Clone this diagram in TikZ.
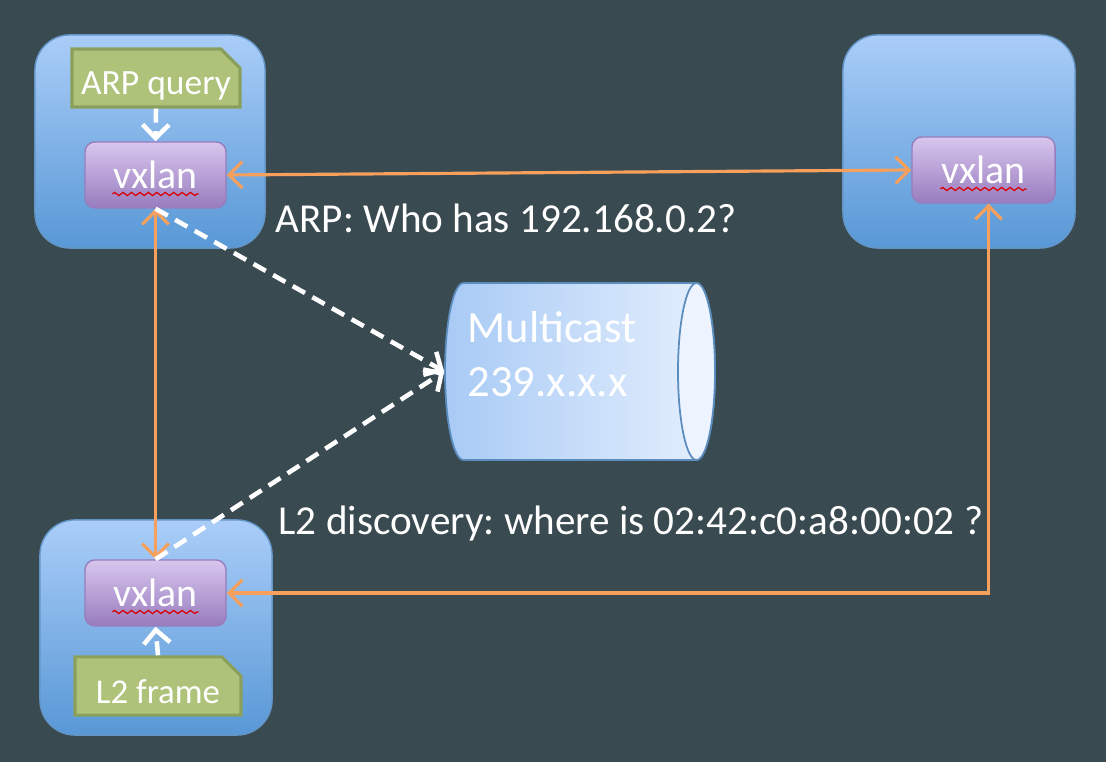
\documentclass[tikz,border=0pt]{standalone}
\usepackage{fontspec}
\setmainfont{Carlito}
\usetikzlibrary{shapes.misc,arrows.meta,decorations.pathmorphing}

\definecolor{slate}{RGB}{58,74,81}
\definecolor{hosttop}{RGB}{170,205,248}
\definecolor{hostbot}{RGB}{88,152,214}
\definecolor{hostedge}{RGB}{100,150,200}
\definecolor{vxtop}{RGB}{216,198,238}
\definecolor{vxbot}{RGB}{152,124,190}
\definecolor{vxedge}{RGB}{150,125,190}
\definecolor{pktfill}{RGB}{174,194,122}
\definecolor{pktedge}{RGB}{138,160,90}
\definecolor{cylleft}{RGB}{168,202,245}
\definecolor{cylright}{RGB}{230,240,254}
\definecolor{cylend}{RGB}{238,244,255}
\definecolor{cyledge}{RGB}{90,140,190}
\definecolor{orng}{RGB}{247,160,92}

\tikzset{
  host/.style={draw=hostedge, line width=0.4pt, rounded corners=0.35cm,
    top color=hosttop, bottom color=hostbot,
    minimum width=2.30cm, minimum height=2.13cm},
  vxbox/.style={draw=vxedge, line width=0.4pt, rounded corners=0.1cm,
    top color=vxtop, bottom color=vxbot, text=white,
    minimum width=1.41cm, minimum height=0.66cm,
    font=\fontsize{11.3}{13}\selectfont},
  pkt/.style={chamfered rectangle, chamfered rectangle corners=north east,
    chamfered rectangle xsep=0.08cm, draw=pktedge, line width=0.9pt,
    fill=pktfill, text=white, minimum height=0.58cm, inner sep=0pt,
    text height=9.6pt, text depth=0pt},
  link/.style={draw=orng, line width=0.9pt,
    {Straight Barb[length=3.8pt,width=7.5pt]}-{Straight Barb[length=3.8pt,width=7.5pt]}},
  flow/.style={draw=white, line width=1.3pt, dash pattern=on 4pt off 2.4pt,
    -{Straight Barb[length=3.8pt,width=7.5pt]}},
  squiggle/.style={draw=red!85!black, line width=0.35pt,
    decorate, decoration={zigzag, segment length=2.4pt, amplitude=0.45pt}},
  lbl/.style={text=white, font=\fontsize{11.7}{13}\selectfont, inner sep=0pt}
}

\begin{document}
\frenchspacing
\begin{tikzpicture}[x=0.01cm, y=-0.01cm]
  % background
  \fill[slate] (0,0) rectangle (1106,762);
  \useasboundingbox (0,0) rectangle (1106,762);

  % hosts
  \node[host] (hostA) at (150,141.5) {};
  \node[host, minimum width=2.32cm] (hostB) at (959,141.5) {};
  \node[host, minimum width=2.32cm, minimum height=2.15cm] (hostC) at (156,627.5) {};

  % vxlan endpoints
  \node[vxbox] (vxlanA) at (155.5,175) {vxlan};
  \node[vxbox, minimum width=1.43cm] (vxlanB) at (983.5,170) {vxlan};
  \node[vxbox] (vxlanC) at (155.5,593) {vxlan};
  \foreach \v in {vxlanA,vxlanB,vxlanC}
    \draw[squiggle] ([shift={(-43,19)}]\v.center) -- ([shift={(43,19)}]\v.center);

  % packets
  \node[pkt, minimum width=1.68cm, font=\fontsize{10.1}{12}\selectfont] (arpq) at (156,78) {ARP query};
  \node[pkt, minimum width=1.66cm, minimum height=0.56cm, text height=10.2pt,
    font=\fontsize{9.9}{12}\selectfont] (l2f) at (158,686) {L2 frame};

  % multicast group (cylinder drawn by hand)
  \node[minimum width=2.70cm, minimum height=1.77cm, inner sep=0pt] (mcast) at (580,371.5) {};
  \shadedraw[draw=cyledge, line width=0.5pt, left color=cylleft, right color=cylright]
    (463.5,283) -- (696.5,283) arc[start angle=-90, end angle=90, x radius=18.5, y radius=88.5]
    -- (463.5,460) arc[start angle=90, end angle=270, x radius=18.5, y radius=88.5] -- cycle;
  \filldraw[fill=cylend, draw=cyledge, line width=0.5pt]
    (696.5,371.5) ellipse[x radius=18.5, y radius=88.5];
  \node[anchor=west, align=left, text=white, inner sep=0pt,
    font=\fontsize{12.7}{15.3}\selectfont] (mcText) at (467,354) {Multicast\\239.x.x.x};

  % connectors
  \draw[flow] (arpq.south) -- (vxlanA.north);
  \draw[flow] (l2f.north) -- (vxlanC.south);
  \draw[link] (vxlanA.east) -- (vxlanB.west);
  \draw[link] (vxlanA.south) -- (vxlanC.north);
  \draw[link] (vxlanC.east) -| ([xshift=0.05cm]vxlanB.south);
  \draw[flow] (vxlanA.south) -- (mcast.west);
  \draw[flow] (vxlanC.north) -- (mcast.west);

  % labels
  \node[lbl, anchor=base west] (arpLbl) at (275,233) {ARP: Who has 192.168.0.2?};
  \node[lbl, anchor=base west] (l2Lbl) at (278,535) {L2 discovery: where is 02:42:c0:a8:00:02 ?};
\end{tikzpicture}
\end{document}
